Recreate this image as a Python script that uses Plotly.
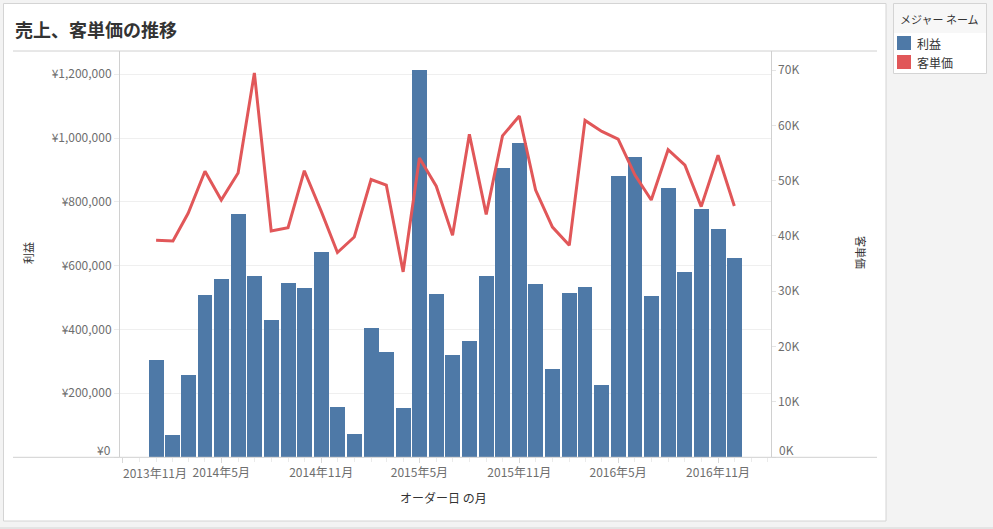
import plotly.graph_objects as go

W, H = 993, 529

months = [f"{y}-{m:02d}-01" for y in (2014, 2015, 2016) for m in range(1, 13)]

profit = [304000, 69000, 257000, 508000, 558000, 762000, 567000, 430000, 545000, 530000, 643000, 157000,
          72000, 404000, 329000, 154000, 1213000, 511000, 320000, 364000, 567000, 906000, 984000, 542000,
          276000, 514000, 533000, 226000, 881000, 940000, 505000, 843000, 580000, 777000, 715000, 624000]

unit_price = [39200, 39100, 44100, 51700, 46500, 51400, 69500, 40900, 41500, 51800, 44500, 37000,
              39800, 50200, 49200, 33500, 54100, 49000, 40100, 58400, 43900, 58100, 61700, 48300,
              41600, 38300, 60900, 58900, 57500, 51000, 46500, 55600, 52800, 45300, 54600, 45400]

x_tickvals = ["2013-11-01", "2014-05-01", "2014-11-01", "2015-05-01", "2015-11-01", "2016-05-01", "2016-11-01"]
x_ticktext = ["2013年11月", "2014年5月", "2014年11月", "2015年5月", "2015年11月", "2016年5月", "2016年11月"]
left_ticks = [0, 200000, 400000, 600000, 800000, 1000000, 1200000]
left_ticktext = ["¥0", "¥200,000", "¥400,000", "¥600,000", "¥800,000", "¥1,000,000", "¥1,200,000"]
right_ticks = [0, 10000, 20000, 30000, 40000, 50000, 60000, 70000]
right_ticktext = ["0K", "10K", "20K", "30K", "40K", "50K", "60K", "70K"]

BLUE = "#4e79a7"
RED = "#e15759"
FONT = "Noto Sans CJK JP"
TICKC = "#6e6e6e"


def px(x):
    return x / W


def py(y):
    return 1 - y / H


fig = go.Figure()
fig.add_trace(go.Bar(x=months, y=profit, name="利益", marker=dict(color=BLUE, line=dict(width=0)),
                     width=27.5 * 86400000, yaxis="y"))
fig.add_trace(go.Scatter(x=months, y=unit_price, name="客単価", mode="lines",
                         line=dict(color=RED, width=3), yaxis="y2"))

shapes = []
shapes.append(dict(type="rect", xref="paper", yref="paper", x0=px(3.5), x1=px(886), y0=py(521), y1=py(3.5),
                   fillcolor="white", line=dict(color="#d4d4d4", width=1), layer="below"))
shapes.append(dict(type="line", xref="paper", yref="paper", x0=px(13), x1=px(877), y0=py(51), y1=py(51),
                   line=dict(color="#d0d0d0", width=1)))
shapes.append(dict(type="line", xref="paper", yref="paper", x0=px(13), x1=px(877), y0=py(457.3), y1=py(457.3),
                   line=dict(color="#d0d0d0", width=1)))
shapes.append(dict(type="line", xref="paper", yref="paper", x0=0, x1=1, y0=py(528), y1=py(528),
                   line=dict(color="#d4d4d4", width=1)))
shapes.append(dict(type="rect", xref="paper", yref="paper", x0=px(893.5), x1=px(986.5), y0=py(73.5), y1=py(3.5),
                   fillcolor="white", line=dict(color="#d4d4d4", width=1)))
shapes.append(dict(type="rect", xref="paper", yref="paper", x0=px(894), x1=px(986), y0=py(33), y1=py(4),
                   fillcolor="#f7f7f7", line=dict(width=0)))
shapes.append(dict(type="rect", xref="paper", yref="paper", x0=px(897), x1=px(911), y0=py(50), y1=py(36),
                   fillcolor=BLUE, line=dict(width=0)))
shapes.append(dict(type="rect", xref="paper", yref="paper", x0=px(897), x1=px(911), y0=py(69), y1=py(55),
                   fillcolor=RED, line=dict(width=0)))


def ann(text, x, y, size=12, color="#333333", xanchor="center", angle=0):
    return dict(text=text, x=px(x), y=py(y), xref="paper", yref="paper", xanchor=xanchor, yanchor="middle",
                textangle=angle, showarrow=False, font=dict(family=FONT, size=size, color=color))


annotations = [
    ann("<b>売上、客単価の推移</b>", 13, 29, size=18, xanchor="left"),
    ann("利益", 28, 253, size=11, angle=-90),
    ann("客単価", 861, 252, size=11, angle=90),
    ann("オーダー日 の月", 443, 497),
    ann("メジャー ネーム", 898, 19, size=11, xanchor="left"),
    ann("利益", 915, 43, xanchor="left"),
    ann("客単価", 915, 62, xanchor="left"),
    # zero labels are lifted inside the pane, as in the reference
    ann(left_ticktext[0], 112.5, 449, color=TICKC, xanchor="right"),
    ann(right_ticktext[0], 777, 449, color=TICKC, xanchor="left"),
    # first x tick label is pushed right of its tick, as in the reference
    dict(text=x_ticktext[0], x=x_tickvals[0], xref="x", y=py(472), yref="paper", xanchor="left",
         yanchor="middle", xshift=-2, showarrow=False, font=dict(family=FONT, size=12, color=TICKC)),
]

fig.update_layout(
    width=W, height=H,
    margin=dict(l=0, r=0, t=0, b=0, autoexpand=False),
    paper_bgcolor="#f3f3f3",
    plot_bgcolor="white",
    showlegend=False,
    bargap=0,
    font=dict(family=FONT, size=12, color=TICKC),
    shapes=shapes,
    annotations=annotations,
    xaxis=dict(
        domain=[px(120), px(770.7)],
        type="date", automargin=False,
        range=["2013-10-26 12:00", "2017-02-06"],
        tickmode="array", tickvals=x_tickvals, ticktext=[""] + x_ticktext[1:],
        ticks="outside", ticklen=5, tickcolor="#d8d8d8",
        minor=dict(tickmode="linear", tick0="2013-11-01", dtick="M1", ticks="outside", ticklen=4,
                   tickcolor="#ebebeb", showgrid=False),
        showgrid=False, zeroline=False, showline=False,
        tickfont=dict(family=FONT, size=12, color=TICKC),
    ),
    yaxis=dict(
        domain=[py(457), py(51)], automargin=False,
        range=[0, 1273000],
        tickmode="array", tickvals=left_ticks, ticktext=[""] + left_ticktext[1:],
        ticks="outside", ticklen=5, tickcolor="#ececec",
        showgrid=True, gridcolor="#efefef", gridwidth=1,
        zeroline=False, showline=True, linecolor="#d0d0d0", linewidth=1,
        tickfont=dict(family=FONT, size=12, color=TICKC),
    ),
    yaxis2=dict(
        overlaying="y", side="right", anchor="x", automargin=False,
        range=[0, 73460],
        tickmode="array", tickvals=right_ticks, ticktext=[""] + right_ticktext[1:],
        ticks="outside", ticklen=4, tickcolor="#e4e4e4",
        showgrid=False, zeroline=False, showline=True, linecolor="#d0d0d0", linewidth=1,
        tickfont=dict(family=FONT, size=12, color=TICKC),
    ),
)

fig.write_html("out.html")
